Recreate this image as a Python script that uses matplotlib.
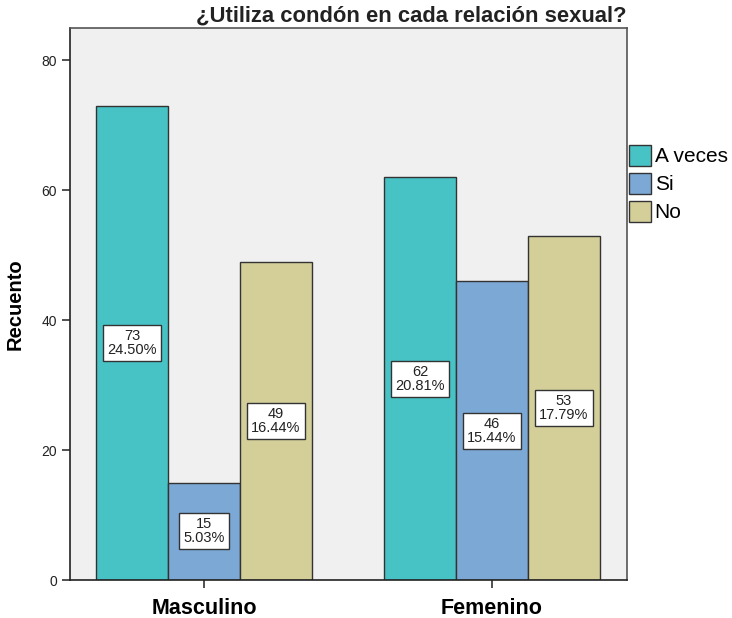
import matplotlib
matplotlib.use("Agg")
import matplotlib.pyplot as plt
from matplotlib.patches import Patch

plt.rcParams["font.family"] = ["Liberation Sans", "DejaVu Sans"]

categories = ["Masculino", "Femenino"]
series = ["A veces", "Si", "No"]
counts = {
    "A veces": [73, 62],
    "Si": [15, 46],
    "No": [49, 53],
}
percents = {
    "A veces": ["24.50%", "20.81%"],
    "Si": ["5.03%", "15.44%"],
    "No": ["16.44%", "17.79%"],
}
colors = {"A veces": "#48C3C5", "Si": "#7CA8D5", "No": "#D4CF99"}

W, H = 732, 618
fig = plt.figure(figsize=(W / 100, H / 100), dpi=100)
ax = fig.add_axes([70 / W, 1 - 580 / H, (627 - 70) / W, (580 - 28) / H])
ax.set_facecolor("#F0F0F0")

bw = 0.25
offsets = [-bw, 0, bw]
for s, off in zip(series, offsets):
    xs = [i + off for i in range(len(categories))]
    ax.bar(xs, counts[s], width=bw, color=colors[s], edgecolor="#333333", linewidth=1.0, zorder=2)
    for x, v, p in zip(xs, counts[s], percents[s]):
        ax.text(x, v / 2, f"{v}\n{p}", ha="center", va="center", fontsize=10.5,
                linespacing=1.0, zorder=3, color="#222222",
                bbox=dict(boxstyle="square,pad=0.28", fc="white", ec="#333333", lw=1.0))

ax.set_xlim(-0.465, 1.469)
ax.set_ylim(0, 85)
ax.set_yticks([0, 20, 40, 60, 80])
ax.tick_params(axis="y", labelsize=10, length=6, width=1.2, color="#333333", labelcolor="#222222")
ax.set_xticks(range(len(categories)))
ax.set_xticklabels(categories, fontsize=15.5, fontweight="bold")
ax.tick_params(axis="x", length=6, width=1.2, color="#333333", pad=7)
for sp in ax.spines.values():
    sp.set_color("#555555")
    sp.set_linewidth(1.2)
ax.spines["bottom"].set_color("#222222")
ax.spines["left"].set_color("#222222")

ax.set_ylabel("Recuento", fontsize=14.5, fontweight="bold", labelpad=12)

fig.text(627 / W, 1 - 16 / H, "¿Utiliza condón en cada relación sexual?", ha="right", va="center",
         fontsize=15.8, fontweight="bold", color="#222222")

handles = [Patch(facecolor=colors[s], edgecolor="#333333", label=s) for s in series]
fig.legend(handles=handles, loc="upper left", bbox_to_anchor=(614 / W, 1 - 130 / H),
           frameon=False, fontsize=15, handlelength=1.1, handleheight=1.2,
           handletextpad=0.15, labelspacing=0.3, borderpad=0.2)

fig.savefig("out.png", dpi=100)
